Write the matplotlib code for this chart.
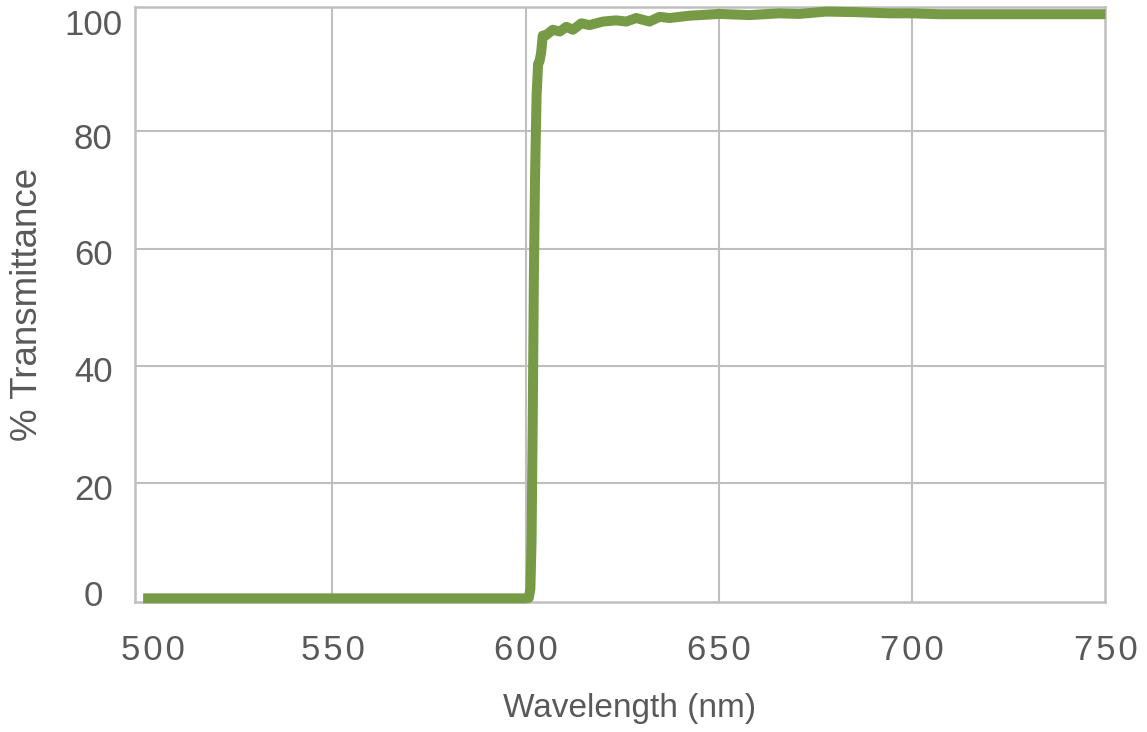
import matplotlib.pyplot as plt
from matplotlib.transforms import ScaledTranslation

# transmittance curve
wavelength = [501, 550, 600, 600.8, 601.2, 601.5, 601.8, 602.1, 602.4, 602.8,
              603.2, 603.6, 604.0, 604.4, 605.3, 607.0, 608.8, 610.5, 612.2,
              614.4, 616.5, 620.0, 623.4, 626.0, 628.6, 632.0, 634.6, 637.2,
              642.4, 650.1, 657.9, 665.6, 670.8, 677.7, 685.5, 694.1, 700,
              707, 720, 735, 750]
transmittance = [0.4, 0.4, 0.4, 0.5, 2, 10, 30, 55, 72, 86,
                 91.5, 92, 93.5, 96.3, 96.4, 97.3, 97.0, 97.8, 97.3,
                 98.4, 98.1, 98.7, 98.9, 98.7, 99.3, 98.7, 99.5, 99.3,
                 99.7, 100.0, 99.8, 100.1, 100.0, 100.4, 100.3, 100.1, 100.1,
                 99.95, 99.95, 99.95, 99.95]

x_ticks = [500, 550, 600, 650, 700, 750]
y_ticks = [0, 20, 40, 60, 80, 100]
x_grid = [550, 600, 650, 700]
y_grid = [20, 40, 60, 80]

plt.rcParams['font.family'] = ['Liberation Sans', 'DejaVu Sans']
text_col = '#595959'
grid_col = '#bfbfbf'

fig = plt.figure(figsize=(11.47, 7.32), dpi=100)
ax = fig.add_axes([0.1177, 0.1772, 0.8461, 0.8126])
ax.set_xlim(498.9, 750)
ax.set_ylim(-0.27, 101.1)

# gridlines (no line at 0 / 100)
ax.hlines(y_grid, 498.9, 750, colors=grid_col, linewidth=1.5, zorder=1)
ax.vlines(x_grid, -0.27, 101.1, colors=grid_col, linewidth=1.5, zorder=1)

ax.plot(wavelength, transmittance, color='#779a46', linewidth=7.2,
        solid_capstyle='butt', solid_joinstyle='round', clip_on=False, zorder=3)

for s in ax.spines.values():
    s.set_color(grid_col)
    s.set_linewidth(1.8)

ax.set_xticks(x_ticks)
ax.set_xticklabels(['\u200a'.join(str(v)) for v in x_ticks])
ax.set_yticks(y_ticks)
ax.set_yticklabels([str(v) for v in y_ticks])
ax.tick_params(axis='both', length=0, labelsize=25, labelcolor=text_col)
ax.tick_params(axis='x', pad=23)
ax.tick_params(axis='y', pad=30)

# small label nudges like the excel original (pixels at dpi 100)
first = ax.get_xticklabels()[0]
first.set_transform(first.get_transform() + ScaledTranslation(0.14, 0, fig.dpi_scale_trans))
y_shift = [0.08, -0.04, -0.03, -0.03, -0.05, -0.08]
for lbl, dy in zip(ax.get_yticklabels(), y_shift):
    lbl.set_horizontalalignment('center')
    lbl.set_transform(lbl.get_transform() + ScaledTranslation(0, dy, fig.dpi_scale_trans))

ax.set_xlabel('Wavelength (nm)', fontsize=24, color=text_col)
ax.xaxis.set_label_coords(0.51, -0.178)
ax.xaxis.label.set_verticalalignment('center')
ax.set_ylabel('% Transmittance', fontsize=26.5, color=text_col)
ax.yaxis.set_label_coords(-0.111, 0.5)
ax.yaxis.label.set_verticalalignment('center')

plt.savefig('out.png', dpi=100)
